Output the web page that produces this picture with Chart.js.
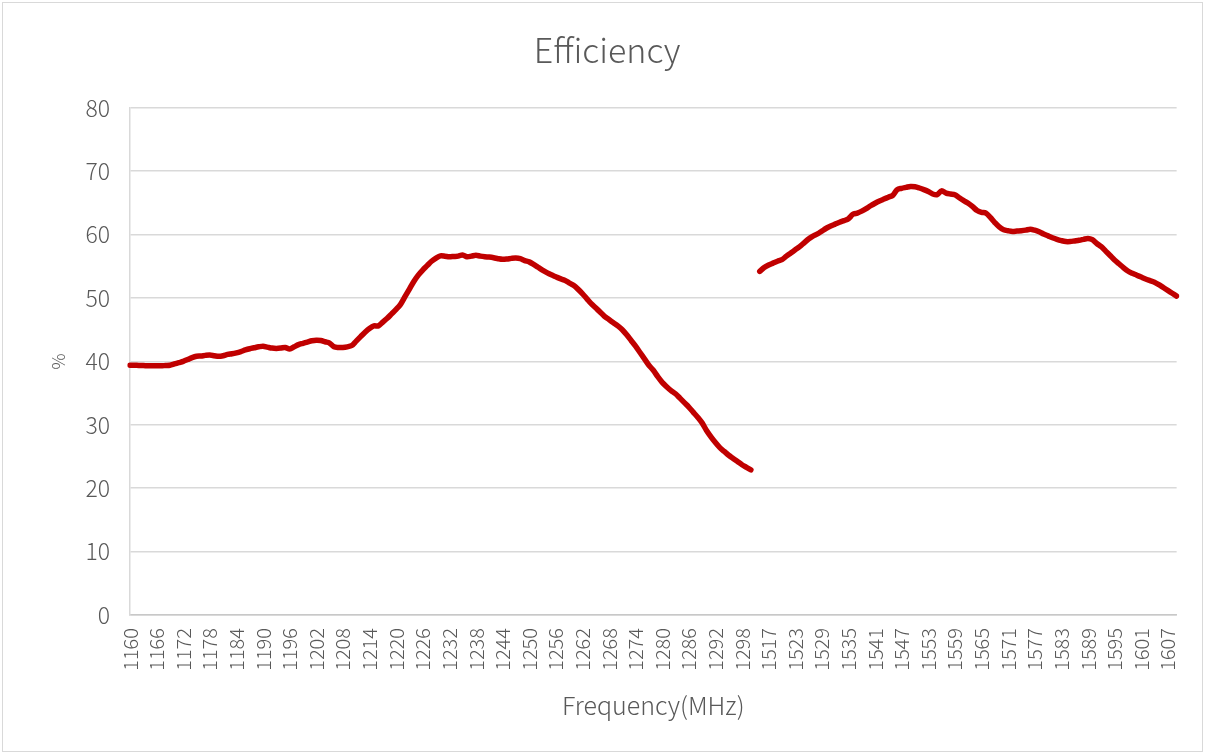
<!DOCTYPE html>
<html>
<head>
<meta charset="utf-8">
<title>Efficiency</title>
<script src="https://cdn.jsdelivr.net/npm/chart.js@4.4.1/dist/chart.umd.min.js"></script>
<style>
    html, body { margin: 0; padding: 0; background: #fff; }
    #wrap { position: relative; width: 1205px; height: 754px; }
    #frame { position: absolute; left: 2px; top: 2px; width: 1199px; height: 748px; border: 1px solid #d9d9d9; pointer-events: none; }
</style>
</head>
<body>
<div id="wrap">
    <canvas id="effChart" width="1205" height="754"></canvas>
    <div id="frame"></div>
</div>
<script>
// --- DATA ---
const freqLow = [
    1160, 1161, 1162, 1163, 1164, 1165, 1166, 1167, 1168, 1169, 1170, 1171, 1172, 1173, 1174, 1175, 1176, 1177, 1178, 1179,
    1180, 1181, 1182, 1183, 1184, 1185, 1186, 1187, 1188, 1189, 1190, 1191, 1192, 1193, 1194, 1195, 1196, 1197, 1198, 1199,
    1200, 1201, 1202, 1203, 1204, 1205, 1206, 1207, 1208, 1209, 1210, 1211, 1212, 1213, 1214, 1215, 1216, 1217, 1218, 1219,
    1220, 1221, 1222, 1223, 1224, 1225, 1226, 1227, 1228, 1229, 1230, 1231, 1232, 1233, 1234, 1235, 1236, 1237, 1238, 1239,
    1240, 1241, 1242, 1243, 1244, 1245, 1246, 1247, 1248, 1249, 1250, 1251, 1252, 1253, 1254, 1255, 1256, 1257, 1258, 1259,
    1260, 1261, 1262, 1263, 1264, 1265, 1266, 1267, 1268, 1269, 1270, 1271, 1272, 1273, 1274, 1275, 1276, 1277, 1278, 1279,
    1280, 1281, 1282, 1283, 1284, 1285, 1286, 1287, 1288, 1289, 1290, 1291, 1292, 1293, 1294, 1295, 1296, 1297, 1298, 1299,
    1300
];
const freqHigh = [
    1515, 1516, 1517, 1518, 1519, 1520, 1521, 1522, 1523, 1524, 1525, 1526, 1527, 1528, 1529, 1530, 1531, 1532, 1533, 1534,
    1535, 1536, 1537, 1538, 1539, 1540, 1541, 1542, 1543, 1544, 1545, 1546, 1547, 1548, 1549, 1550, 1551, 1552, 1553, 1554,
    1555, 1556, 1557, 1558, 1559, 1560, 1561, 1562, 1563, 1564, 1565, 1566, 1567, 1568, 1569, 1570, 1571, 1572, 1573, 1574,
    1575, 1576, 1577, 1578, 1579, 1580, 1581, 1582, 1583, 1584, 1585, 1586, 1587, 1588, 1589, 1590, 1591, 1592, 1593, 1594,
    1595, 1596, 1597, 1598, 1599, 1600, 1601, 1602, 1603, 1604, 1605, 1606, 1607, 1608, 1609
];

// efficiency in %, low band 1160-1300 MHz
const effLow = [
    39.4, 39.4, 39.35, 39.35, 39.3, 39.3, 39.3, 39.3, 39.35, 39.4, 39.6, 39.8, 40.0, 40.3, 40.6, 40.8, 40.85, 40.95, 41.0, 40.9,
    40.8, 40.9, 41.1, 41.2, 41.35, 41.55, 41.8, 42.0, 42.15, 42.3, 42.4, 42.25, 42.1, 42.05, 42.1, 42.2, 41.95, 42.3, 42.65, 42.85,
    43.05, 43.25, 43.35, 43.3, 43.1, 42.9, 42.3, 42.2, 42.2, 42.3, 42.5, 43.2, 43.9, 44.6, 45.2, 45.6, 45.6, 46.2, 46.8, 47.5,
    48.2, 49.0, 50.2, 51.4, 52.6, 53.6, 54.4, 55.1, 55.8, 56.3, 56.65, 56.6, 56.5, 56.55, 56.6, 56.8, 56.5, 56.6, 56.75, 56.6,
    56.5, 56.45, 56.35, 56.2, 56.1, 56.15, 56.25, 56.3, 56.2, 55.9, 55.7, 55.3, 54.85, 54.4, 54.0, 53.65, 53.35, 53.05, 52.8, 52.4,
    52.0, 51.4, 50.7, 49.9, 49.1, 48.45, 47.8, 47.1, 46.6, 46.1, 45.6, 45.0, 44.2, 43.3, 42.4, 41.4, 40.4, 39.4, 38.6, 37.6,
    36.7, 36.0, 35.4, 34.9, 34.2, 33.5, 32.8, 32.0, 31.2, 30.3, 29.1, 28.1, 27.2, 26.4, 25.8, 25.2, 24.7, 24.2, 23.7, 23.3,
    22.9
];
// efficiency in %, high band 1515-1609 MHz
const effHigh = [
    54.2, 54.8, 55.2, 55.5, 55.8, 56.05, 56.6, 57.1, 57.6, 58.1, 58.7, 59.3, 59.75, 60.1, 60.55, 61.0, 61.35, 61.65, 61.95, 62.2,
    62.5, 63.2, 63.4, 63.7, 64.1, 64.55, 64.95, 65.3, 65.6, 65.9, 66.2, 67.1, 67.3, 67.45, 67.6, 67.55, 67.35, 67.1, 66.8, 66.4,
    66.3, 66.9, 66.55, 66.4, 66.3, 65.8, 65.35, 64.95, 64.4, 63.8, 63.5, 63.4, 62.7, 61.9, 61.2, 60.75, 60.6, 60.5, 60.55, 60.6,
    60.7, 60.85, 60.7, 60.45, 60.1, 59.8, 59.5, 59.25, 59.05, 58.9, 58.9, 59.0, 59.1, 59.25, 59.4, 59.2, 58.6, 58.1, 57.4, 56.7,
    56.0, 55.4, 54.8, 54.25, 53.9, 53.6, 53.3, 53.0, 52.75, 52.5, 52.1, 51.65, 51.2, 50.75, 50.3
];

const yTicks = [0, 10, 20, 30, 40, 50, 60, 70, 80];

// one empty category between the two bands breaks the line
const labels = freqLow.concat([''], freqHigh);
const values = effLow.concat([null], effHigh);

const FONT = '"Noto Sans CJK SC", "Noto Sans", sans-serif';
const TXT = '#595959';

// ================= CHART =================
const ctx = document.getElementById('effChart').getContext('2d');
const effChart = new Chart(ctx, {
    type: 'line',
    data: {
        labels,
        datasets: [{
            label: 'Efficiency',
            data: values,
            borderColor: '#c00000',
            borderWidth: 5.5,
            borderCapStyle: 'round',
            borderJoinStyle: 'round',
            pointRadius: 0,
            tension: 0.3,
            spanGaps: false,
            fill: false
        }]
    },
    options: {
        responsive: false,
        animation: false,
        layout: { padding: { left: 37, right: 28, top: 0, bottom: 0 } },
        plugins: {
            legend: { display: false },
            tooltip: { enabled: false },
            title: {
                display: true,
                text: 'Efficiency',
                color: TXT,
                font: { family: FONT, size: 34, weight: 300 },
                padding: { top: 30, bottom: 37 }
            }
        },
        scales: {
            x: {
                offset: false,
                grid: { display: false, drawTicks: false },
                border: { display: true, color: '#c8c8c8', width: 1.5 },
                ticks: {
                    autoSkip: false,
                    minRotation: 90,
                    maxRotation: 90,
                    padding: 13,
                    color: TXT,
                    font: { family: FONT, size: 20, weight: 300 },
                    callback: (v, i) => (i % 6 === 0 ? labels[i] : null)
                },
                title: {
                    display: true,
                    text: 'Frequency(MHz)',
                    color: TXT,
                    font: { family: FONT, size: 25, weight: 300 },
                    padding: { top: 0, bottom: 34 }
                },
                afterFit: s => { s.height = 139; }
            },
            y: {
                min: 0,
                max: 80,
                afterBuildTicks: s => { s.ticks = yTicks.map(v => ({ value: v })); },
                grid: { color: '#d9d9d9', lineWidth: 1.5, drawTicks: false },
                border: { display: true, color: '#d9d9d9', width: 1.5 },
                ticks: {
                    padding: 20,
                    color: TXT,
                    font: { family: FONT, size: 23, weight: 300 }
                },
                title: {
                    display: true,
                    text: '%',
                    color: TXT,
                    font: { family: FONT, size: 18, weight: 300 },
                    padding: { top: 10, bottom: 0 }
                },
                afterFit: s => { s.width = 93; }
            }
        }
    }
});
</script>
</body>
</html>
